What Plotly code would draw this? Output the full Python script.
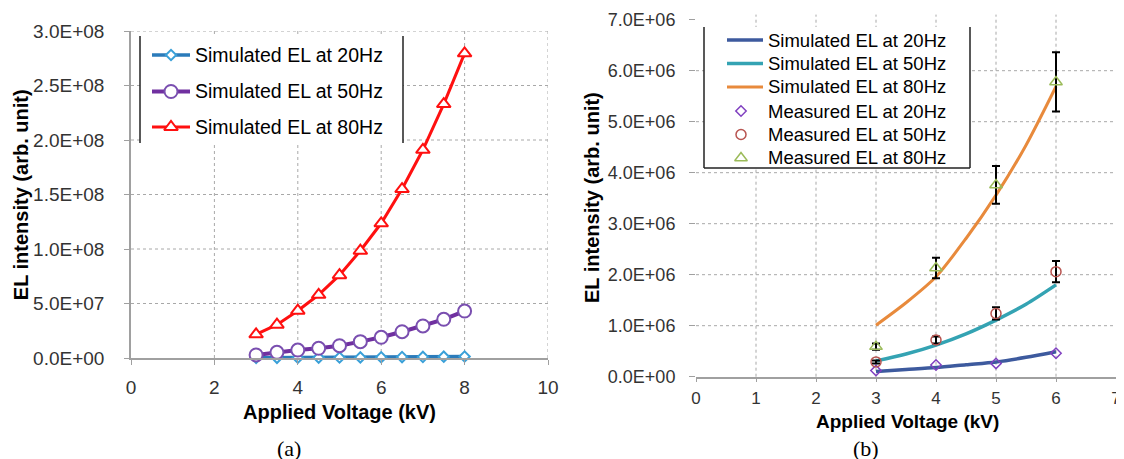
import plotly.graph_objects as go

# ---------------- data ----------------
# (a) simulated EL vs applied voltage
volt_a = [3, 3.5, 4, 4.5, 5, 5.5, 6, 6.5, 7, 7.5, 8]
sim20_a = [0.15e6, 0.21e6, 0.28e6, 0.37e6, 0.46e6, 0.57e6, 0.70e6, 0.84e6, 1.00e6, 1.18e6, 1.38e6]
sim50_a = [2.8e6, 5.2e6, 7.3e6, 8.9e6, 11.3e6, 15.0e6, 19.0e6, 24.1e6, 29.4e6, 35.5e6, 43.1e6]
sim80_a = [21.7e6, 30.6e6, 43.4e6, 58.0e6, 76.0e6, 98.4e6, 123.6e6, 155e6, 191e6, 233e6, 279.5e6]

# (b) simulated curves and measured points
volt_b_sim = [3, 3.5, 4, 4.5, 5, 5.5, 6]
sim20_b = [0.10e6, 0.14e6, 0.18e6, 0.235e6, 0.29e6, 0.38e6, 0.49e6]
sim50_b = [0.31e6, 0.445e6, 0.62e6, 0.84e6, 1.11e6, 1.42e6, 1.80e6]
sim80_b = [1.01e6, 1.45e6, 1.96e6, 2.71e6, 3.56e6, 4.54e6, 5.69e6]

volt_b_meas = [3, 4, 5, 6]
meas20_b = [0.12e6, 0.23e6, 0.26e6, 0.46e6]
meas50_b = [0.29e6, 0.72e6, 1.24e6, 2.06e6]
err50_b = [0.03e6, 0.07e6, 0.12e6, 0.21e6]
meas80_b = [0.59e6, 2.13e6, 3.76e6, 5.78e6]
err80_b = [0.06e6, 0.20e6, 0.37e6, 0.58e6]

# ticks
a_xticks = [0, 2, 4, 6, 8, 10]
a_yticks = [0, 5e7, 1e8, 1.5e8, 2e8, 2.5e8, 3e8]
a_ytext = ["0.0E+00", "5.0E+07", "1.0E+08", "1.5E+08", "2.0E+08", "2.5E+08", "3.0E+08"]
a_xgrid = [2, 4, 6, 8, 10]
a_ygrid = [5e7, 1e8, 1.5e8, 2e8, 2.5e8, 3e8]

b_xticks = [0, 1, 2, 3, 4, 5, 6, 7]
b_yticks = [0, 1e6, 2e6, 3e6, 4e6, 5e6, 6e6, 7e6]
b_ytext = ["0.0E+00", "1.0E+06", "2.0E+06", "3.0E+06", "4.0E+06", "5.0E+06", "6.0E+06", "7.0E+06"]
b_xgrid = [1, 2, 3, 4, 5, 6]
b_ygrid = [1e6, 2e6, 3e6, 4e6, 5e6, 6e6]

names_a = ["Simulated EL at 20Hz", "Simulated EL at 50Hz", "Simulated EL at 80Hz"]
names_b = ["Simulated EL at 20Hz", "Simulated EL at 50Hz", "Simulated EL at 80Hz",
           "Measured EL at 20Hz", "Measured EL at 50Hz", "Measured EL at 80Hz"]

# ---------------- styles ----------------
W, H = 1124, 459
OFF = 8  # page body margin in the browser
FONT = "Arial, Liberation Sans, sans-serif"
GRID = dict(color="#a8a8a8", width=1, dash="dot")
AXC = "#a0a0a0"

def px(x):
    return (x - OFF) / W

def py(y):
    return 1 - (y - OFF) / H

style_a = [
    dict(line=dict(color="#2b7bba", width=3.5),
         marker=dict(symbol="diamond", size=8, color="white", line=dict(color="#3aa0d8", width=2))),
    dict(line=dict(color="#7030a0", width=4),
         marker=dict(symbol="circle", size=13, color="white", line=dict(color="#7a4fb0", width=2))),
    dict(line=dict(color="#ff1010", width=3),
         marker=dict(symbol="triangle-up", size=12, color="white", line=dict(color="#ff1010", width=2))),
]
style_b_lines = [
    dict(color="#3d5a9e", width=3.5),
    dict(color="#34a3b3", width=3.5),
    dict(color="#e88a3c", width=3),
]
style_b_marks = [
    dict(symbol="diamond-open", size=8, color="#8040c0", line=dict(width=1.5)),
    dict(symbol="circle-open", size=10, color="#b85450", line=dict(width=1.5)),
    dict(symbol="triangle-up-open", size=11, color="#9bbb59", line=dict(width=1.5)),
]

fig = go.Figure()

# ---------------- chart (a) ----------------
for ys, st, nm in zip([sim20_a, sim50_a, sim80_a], style_a, names_a):
    fig.add_trace(go.Scatter(x=volt_a, y=ys, mode="lines+markers", name=nm,
                             line=st["line"], marker=st["marker"], cliponaxis=False,
                             xaxis="x", yaxis="y", showlegend=False))

# ---------------- chart (b) ----------------
for ys, st, nm in zip([sim20_b, sim50_b, sim80_b], style_b_lines, names_b[:3]):
    fig.add_trace(go.Scatter(x=volt_b_sim, y=ys, mode="lines", name=nm,
                             line=dict(st, shape="spline", smoothing=0.8),
                             xaxis="x2", yaxis="y2", showlegend=False))

meas_sets = [(meas20_b, None), (meas50_b, err50_b), (meas80_b, err80_b)]
for (ys, er), mk, nm in zip(meas_sets, style_b_marks, names_b[3:]):
    ebar = dict(visible=False) if er is None else dict(type="data", array=er, visible=True,
                                                       color="black", thickness=2, width=4)
    fig.add_trace(go.Scatter(x=volt_b_meas, y=ys, mode="markers", name=nm,
                             marker=mk, error_y=ebar, cliponaxis=False,
                             xaxis="x2", yaxis="y2", showlegend=False))

# ---------------- manual legends (overlay pixel axis) ----------------
LEG_A = dict(x0=140, x1=403, y0=36, y1=143, rows=[55, 91.5, 127], lx0=152, lx1=190, mx=171, tx=193)
LEG_B = dict(x0=704, x1=970, y0=27, y1=168, rows=[40, 63.5, 87, 111, 134.5, 158],
             lx0=727, lx1=763, mx=741, tx=766)

def ov(**kw):
    return go.Scatter(xaxis="x3", yaxis="y3", showlegend=False, hoverinfo="skip", **kw)

for L, sides in [(LEG_A, ["l", "r"]), (LEG_B, ["l", "r", "b"])]:
    fig.add_trace(ov(x=[L["x0"], L["x1"], L["x1"], L["x0"], L["x0"]],
                     y=[L["y0"], L["y0"], L["y1"], L["y1"], L["y0"]],
                     mode="lines", fill="toself", fillcolor="white", line=dict(width=0)))
    seg = {"l": ([L["x0"], L["x0"]], [L["y0"], L["y1"]]),
           "r": ([L["x1"], L["x1"]], [L["y0"], L["y1"]]),
           "b": ([L["x0"], L["x1"]], [L["y1"], L["y1"]])}
    for s in sides:
        fig.add_trace(ov(x=seg[s][0], y=seg[s][1], mode="lines", line=dict(color="#222", width=1.5)))

annotations = []
for i, st in enumerate(style_a):
    yy = LEG_A["rows"][i]
    fig.add_trace(ov(x=[LEG_A["lx0"], LEG_A["lx1"]], y=[yy, yy], mode="lines", line=st["line"]))
    fig.add_trace(ov(x=[LEG_A["mx"]], y=[yy], mode="markers", marker=st["marker"]))
    annotations.append(dict(x=px(LEG_A["tx"]), y=py(yy), xref="paper", yref="paper", xanchor="left",
                            yanchor="middle", text=names_a[i], showarrow=False,
                            font=dict(family=FONT, size=19.5, color="black")))
for i in range(6):
    yy = LEG_B["rows"][i]
    if i < 3:
        fig.add_trace(ov(x=[LEG_B["lx0"], LEG_B["lx1"]], y=[yy, yy], mode="lines", line=style_b_lines[i]))
    else:
        fig.add_trace(ov(x=[LEG_B["mx"]], y=[yy], mode="markers", marker=style_b_marks[i - 3]))
    annotations.append(dict(x=px(LEG_B["tx"]), y=py(yy), xref="paper", yref="paper", xanchor="left",
                            yanchor="middle", text=names_b[i], showarrow=False,
                            font=dict(family=FONT, size=18.5, color="black")))

# ---------------- gridlines ----------------
shapes = []
for v in a_xgrid:
    shapes.append(dict(type="line", xref="x", yref="y domain", x0=v, x1=v, y0=0, y1=1, line=GRID, layer="below"))
for v in a_ygrid:
    shapes.append(dict(type="line", xref="x domain", yref="y", x0=0, x1=1, y0=v, y1=v, line=GRID, layer="below"))
for v in b_xgrid:
    shapes.append(dict(type="line", xref="x2", yref="y2 domain", x0=v, x1=v, y0=0, y1=1, line=GRID, layer="below"))
for v in b_ygrid:
    shapes.append(dict(type="line", xref="x2 domain", yref="y2", x0=0, x1=1, y0=v, y1=v, line=GRID, layer="below"))

# ---------------- titles ----------------
TF = dict(family=FONT, size=20, color="black")
SERIF = dict(family="Liberation Serif, Times New Roman, serif", size=22, color="black")
annotations += [
    dict(x=px(339.5), y=py(411.7), text="<b>Applied Voltage (kV)</b>", font=TF),
    dict(x=px(907), y=py(421), text="<b>Applied Voltage (kV)</b>", font=dict(TF, size=19)),
    dict(x=px(21.7), y=py(194.5), text="<b>EL intensity (arb. unit)</b>", textangle=-90, font=TF),
    dict(x=px(592), y=py(198), text="<b>EL intensity (arb. unit)</b>", textangle=-90, font=TF),
    dict(x=px(289), y=py(448), text="(a)", font=SERIF),
    dict(x=px(866), y=py(448), text="(b)", font=SERIF),
]
for a in annotations[-6:]:
    a.update(xref="paper", yref="paper", showarrow=False, xanchor="center", yanchor="middle")

TICKF = dict(family=FONT, size=19, color="#333")
b_xmax = 7 * (1124 - 696) / (1116 - 696)

fig.update_layout(
    width=W, height=H, margin=dict(l=0, r=0, t=0, b=0, pad=0, autoexpand=False),
    paper_bgcolor="white", plot_bgcolor="rgba(0,0,0,0)",
    showlegend=False,
    xaxis=dict(domain=[px(131), px(548)], range=[0, 10], anchor="y", showgrid=False, zeroline=False,
               showline=True, linecolor=AXC, linewidth=1.5, ticks="outside", ticklen=5, tickcolor=AXC,
               tickvals=a_xticks, tickfont=TICKF, ticklabelstandoff=6, automargin=False),
    yaxis=dict(domain=[py(358), py(31)], range=[0, 3e8], anchor="x", showgrid=False, zeroline=False,
               showline=True, linecolor=AXC, linewidth=1.5, ticks="outside", ticklen=5, tickcolor=AXC,
               tickvals=a_yticks, ticktext=a_ytext, tickfont=TICKF, ticklabelstandoff=16, automargin=False),
    xaxis2=dict(domain=[px(696), px(1124)], range=[0, b_xmax], anchor="y2", showgrid=False, zeroline=False,
                showline=True, linecolor=AXC, linewidth=1.5, ticks="outside", ticklen=4, tickcolor=AXC,
                tickvals=b_xticks, tickfont=dict(TICKF, size=17), ticklabelstandoff=1,
                ticklabeloverflow="allow", automargin=False),
    yaxis2=dict(domain=[py(376.7), py(14.6)], range=[0, 7.1e6], anchor="x2", showgrid=False, zeroline=False,
                showline=False, ticks="outside", ticklen=6, tickcolor=AXC,
                tickvals=b_yticks, ticktext=b_ytext, tickfont=dict(TICKF, size=18), ticklabelstandoff=10,
                automargin=False),
    xaxis3=dict(domain=[0, 1], range=[OFF, W + OFF], anchor="y3", visible=False, fixedrange=True, automargin=False),
    yaxis3=dict(domain=[0, 1], range=[H + OFF, OFF], anchor="x3", visible=False, fixedrange=True, automargin=False),
    shapes=shapes, annotations=annotations,
)

fig.write_html("out.html")
